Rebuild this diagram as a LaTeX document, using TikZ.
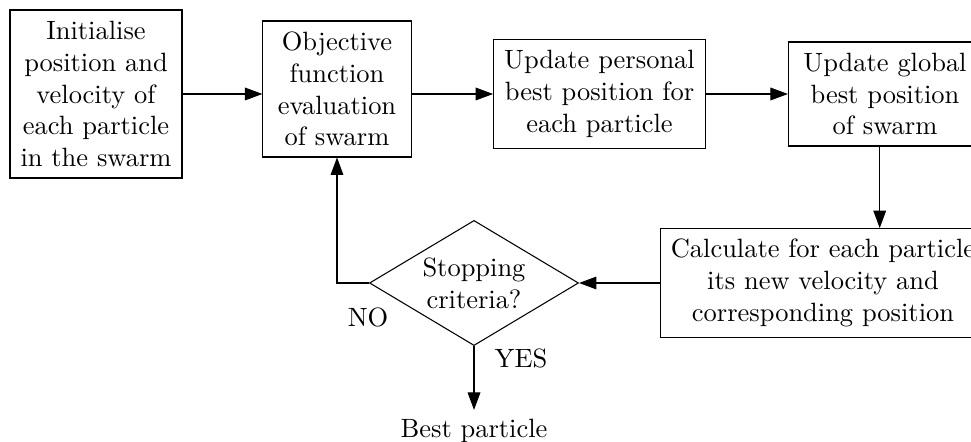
\documentclass[tikz,border=0pt]{standalone}
\usetikzlibrary{shapes.geometric,arrows.meta}
\begin{document}
\begin{tikzpicture}[x=0.378pt,y=-0.378pt,
  box/.style={draw,thin,align=center,inner sep=4pt},
  decision/.style={draw,thin,diamond,align=center,inner sep=0pt,aspect=1.67,
    minimum width=79pt,minimum height=47.3pt},
  flow/.style={thin,-{Triangle[length=6.6pt,width=4.8pt]}}]
\useasboundingbox (0,0) rectangle (971,442);

% process boxes
\node[box,minimum width=63.5pt,minimum height=63.5pt] (init) at (96,94)
  {Initialise\\position and\\velocity of\\each particle\\in the swarm};
\node[box,minimum width=56pt,minimum height=51.4pt] (eval) at (337,89)
  {Objective\\function\\evaluation\\of swarm};
\node[box,minimum width=79pt,minimum height=39.3pt] (pbest) at (599.5,94)
  {Update personal\\best position for\\each particle};
\node[box,minimum width=73pt,minimum height=39.3pt] (gbest) at (885,94)
  {Update global\\best position\\of swarm};
\node[box,minimum width=121pt,minimum height=39.3pt] (calc) at (823,283)
  {Calculate for each particle\\its new velocity and\\corresponding position};

% decision and result
\node[decision] (stop) at (474,283) {Stopping\\criteria?};
\node (best) at (474,431) {Best particle};
\node (no) at (368,317) {NO};
\node (yes) at (521,358) {YES};

% connectors
\draw[flow] (init.east) -- (init.east -| eval.west);
\draw[flow] (pbest.west -| eval.east) -- (pbest.west);
\draw[flow] (pbest.east) -- (gbest.west);
\draw[flow] ([xshift=-2pt]gbest.south) -- ([xshift=-2pt]gbest.south |- calc.north);
\draw[flow] (calc.west) -- (stop.east);
\draw[flow] (stop.west) -| (eval.south);
\draw[flow] (stop.south) -- (best.north);
\end{tikzpicture}
\end{document}
